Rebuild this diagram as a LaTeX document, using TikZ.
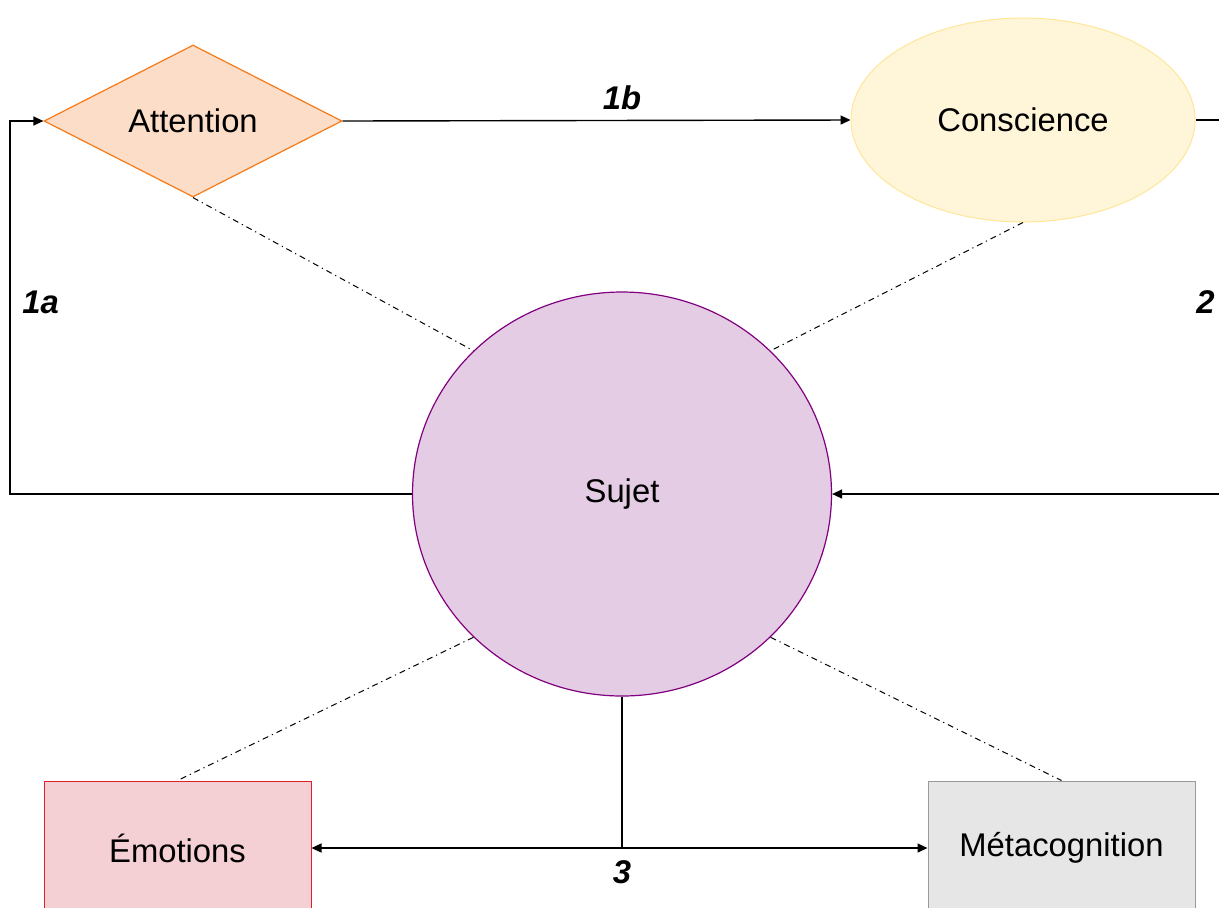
\documentclass[tikz,border=0pt]{standalone}
\usepackage{fontspec}
\setmainfont{Liberation Sans}
\usetikzlibrary{shapes.geometric,arrows.meta}

\definecolor{attfill}{RGB}{252,221,200}
\definecolor{attline}{RGB}{247,122,24}
\definecolor{confill}{RGB}{255,245,217}
\definecolor{conline}{RGB}{255,230,153}
\definecolor{sujfill}{RGB}{228,204,228}
\definecolor{sujline}{RGB}{128,0,128}
\definecolor{emofill}{RGB}{244,208,212}
\definecolor{emoline}{RGB}{224,32,42}
\definecolor{metfill}{RGB}{230,230,230}
\definecolor{metline}{RGB}{153,153,153}

\tikzset{
  txt/.style={font=\fontsize{16.4}{19}\selectfont},
  lbl/.style={font=\fontsize{16.4}{19}\selectfont\bfseries\itshape, inner sep=0pt},
  link/.style={line width=0.7pt, -{Triangle[length=5pt,width=4.5pt]}},
  plain/.style={line width=0.7pt},
  tie/.style={line width=0.5pt, dash pattern=on 3pt off 2pt on 0.6pt off 2pt},
  boxnode/.style={txt, rectangle, draw, line width=0.5pt, minimum width=133.5pt, minimum height=67pt, inner sep=0pt}
}

\begin{document}
\begin{tikzpicture}[x=0.5pt, y=-0.5pt]
		\clip (0, 0) rectangle (1219, 907);

			%shapes%
			\node[txt, diamond, aspect=2, draw=attline, fill=attfill, line width=0.6pt, inner sep=0pt, minimum width=149pt, minimum height=76pt] (att) at (193, 121) {Attention};
			\node[txt, ellipse, draw=conline, fill=confill, line width=0.5pt, inner sep=0pt, minimum width=172pt, minimum height=102pt] (con) at (1023, 120) {Conscience};
			\node[txt, ellipse, draw=sujline, fill=sujfill, line width=0.6pt, inner sep=0pt, minimum width=209.5pt, minimum height=202pt] (suj) at (622, 494) {Sujet};
			\node[boxnode, draw=emoline, fill=emofill] (emo) at (177.5, 848) {Émotions};
			\node[boxnode, draw=metline, fill=metfill] (met) at (1061.5, 848) {Métacognition};

			\coordinate (c1a) at (10, 494);
			\coordinate (c2) at (1240, 302);
			\coordinate (c3) at (622, 848);

			%arrows%
			\draw[link] (att.east) to node[lbl, pos=0.55, above=5pt]{1b} (con.west);
			\draw[link] (suj.west) -- (c1a) |- (att.west);
			\node[lbl, anchor=west] (l1a) at (22, 302){1a};
			\draw[link] (con.east) -| (c2) |- (suj.east);
			\node[lbl, anchor=east] (l2) at (1215, 302){2};
			\draw[plain] (suj.south) -- (c3);
			\draw[link] (c3) -- (emo.east);
			\draw[link] (c3) -- (met.west);
			\node[lbl] (l3) at (622, 872){3};

			%ties%
			\draw[tie] (att.south) -- (suj.north west);
			\draw[tie] (con.south) -- (suj.north east);
			\draw[tie] (suj.south west) -- (emo.north);
			\draw[tie] (suj.south east) -- (met.north);
		\end{tikzpicture}
\end{document}
